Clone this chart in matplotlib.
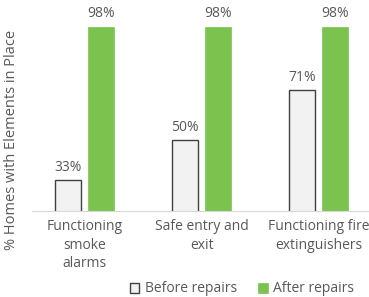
import matplotlib.pyplot as plt
import numpy as np

categories = ["Functioning\nsmoke\nalarms", "Safe entry and\nexit", "Functioning fire\nextinguishers"]
before = [33, 50, 71]
after = [98, 98, 98]

text_color = "#595959"
plt.rcParams["font.family"] = ["Open Sans", "DejaVu Sans"]
plt.rcParams["font.size"] = 10

fig = plt.figure(figsize=(3.69, 2.97), dpi=100)
ax = fig.add_axes([0.0867, 0.2896, 0.9133, 0.6364])

x = np.arange(len(categories))
w = 0.222
off = 0.141
# axis starts at 20%, so bars are clipped by the axes
b1 = ax.bar(x - off, before, w, color="#F2F2F2", edgecolor="#404040", linewidth=1, label="Before repairs")
b2 = ax.bar(x + off, after, w, color="#7BC24F", edgecolor="#7BC24F", linewidth=0.5, label="After repairs")

for bars in (b1, b2):
    for r in bars:
        ax.annotate(f"{r.get_height():.0f}%", (r.get_x() + r.get_width() / 2, r.get_height()),
                    xytext=(0, 4), textcoords="offset points", ha="center", va="bottom",
                    color=text_color, fontsize=10)

ax.set_xlim(-0.449, 2.43)
ax.set_ylim(20, 100)
ax.set_yticks([])
ax.set_xticks(x)
ax.set_xticklabels(categories, color=text_color, linespacing=1.3)
ax.tick_params(axis="x", length=0, pad=6)
for s in ("top", "right", "left"):
    ax.spines[s].set_visible(False)
ax.spines["bottom"].set_color("#D9D9D9")
ax.spines["bottom"].set_zorder(5)

fig.text(12 / 369, 1 - 140 / 297, "% Homes with Elements in Place", rotation=90,
         ha="center", va="center", color=text_color, fontsize=10.5)

fig.legend(handles=[b1, b2], loc="center", bbox_to_anchor=(242 / 369, 1 - 289 / 297),
           ncol=2, frameon=False, handlelength=0.7, handleheight=0.7, handletextpad=0.4,
           columnspacing=1.5, labelcolor=text_color, fontsize=10)

fig.savefig("out.png", dpi=100)
